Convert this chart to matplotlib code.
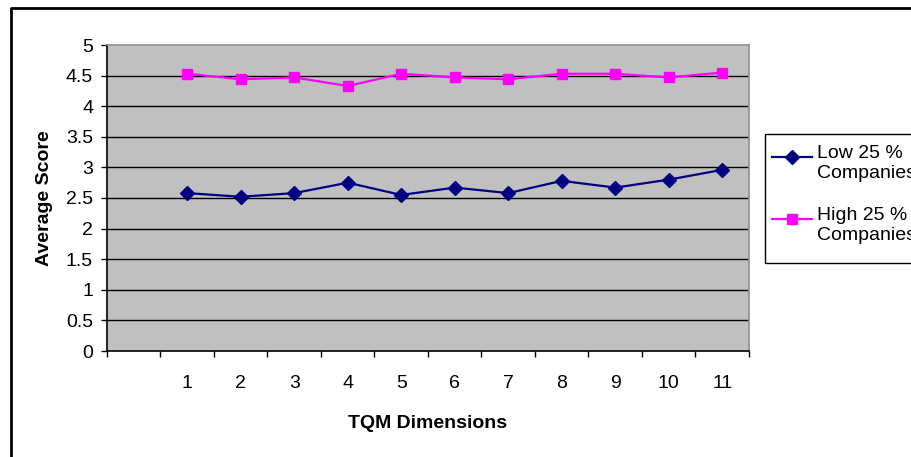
import numpy as np
import matplotlib
matplotlib.use('Agg')
import matplotlib.pyplot as plt
from matplotlib.lines import Line2D
from matplotlib.patches import Rectangle

plt.rcParams['font.family'] = ['Liberation Sans', 'DejaVu Sans']

# data
dimensions = ['1', '2', '3', '4', '5', '6', '7', '8', '9', '10', '11']
low_25 = [2.58, 2.52, 2.58, 2.75, 2.55, 2.67, 2.58, 2.78, 2.67, 2.80, 2.96]
high_25 = [4.53, 4.44, 4.47, 4.33, 4.53, 4.47, 4.44, 4.53, 4.53, 4.47, 4.55]
series_names = ['Low 25 %\nCompanies', 'High 25 %\nCompanies']
series_colors = ['#000080', '#FF00FF']
series_markers = ['D', 's']

W, H = 912, 457
fig = plt.figure(figsize=(W / 100, H / 100), dpi=100)

# plot area in pixels: left 107, right 749, top 45, bottom 351
ax = fig.add_axes([107 / W, 1 - 351 / H, 642 / W, 306 / H])
ax.set_facecolor('#C0C0C0')

# first category slot is empty, dimensions sit in slots 2..12
x = np.arange(len(dimensions)) + 1.5
ax.plot(x, low_25, color=series_colors[0], marker=series_markers[0],
        markersize=7.5, linewidth=1.6, zorder=3)
ax.plot(x, high_25, color=series_colors[1], marker=series_markers[1],
        markersize=7, linewidth=1.6, zorder=3)

ax.set_xlim(0, len(dimensions) + 1)
ax.set_ylim(0, 5)

yt = np.arange(0, 5.01, 0.5)
ax.set_yticks(yt)
ax.set_yticklabels(['%g' % v for v in yt], fontsize=14)
for v in yt[1:-1]:
    ax.axhline(v, color='black', linewidth=1.0, zorder=1)

ax.set_xticks(np.arange(0, len(dimensions) + 2))
ax.set_xticklabels([])
ax.set_xticks(x, minor=True)
ax.set_xticklabels(dimensions, minor=True, fontsize=14)
ax.tick_params(axis='x', which='minor', length=0, pad=17)
ax.tick_params(axis='both', which='major', direction='out', length=4,
               width=1, color='black')
ax.tick_params(axis='y', pad=6)

for s in ['top', 'right']:
    ax.spines[s].set_color('#909090')
    ax.spines[s].set_linewidth(1.2)
for s in ['left', 'bottom']:
    ax.spines[s].set_color('black')
    ax.spines[s].set_linewidth(1.2)

fig.text(45 / W, 1 - 198 / H, 'Average Score', rotation=90, fontsize=14,
         fontweight='bold', ha='center', va='center')
fig.text(428 / W, 1 - 424 / H, 'TQM Dimensions', fontsize=14,
         fontweight='bold', ha='center', va='center')

# outer chart frame (left and top edges visible)
fig.add_artist(Line2D([11 / W, 11 / W, 1.0], [0.0, 1 - 8 / H, 1 - 8 / H],
                      color='black', linewidth=2, transform=fig.transFigure))

# legend box, drawn by hand so the key sits on the first text line
fig.add_artist(Rectangle((765 / W, 1 - 263 / H), (W - 765 + 20) / W, 129 / H,
                         facecolor='white', edgecolor='black', linewidth=1,
                         transform=fig.transFigure))
for i, name in enumerate(series_names):
    ly = 157 + i * 62
    fig.add_artist(Line2D([772 / W, 812 / W], [1 - ly / H, 1 - ly / H],
                          color=series_colors[i], linewidth=1.6,
                          transform=fig.transFigure))
    fig.add_artist(Line2D([792 / W], [1 - ly / H], color=series_colors[i],
                          marker=series_markers[i], markersize=7 if i else 7.5,
                          linestyle='none', transform=fig.transFigure))
    fig.text(817 / W, 1 - (ly - 12) / H, name, fontsize=14, ha='left',
             va='top', linespacing=1.25)

fig.savefig('out.png', dpi=100)
